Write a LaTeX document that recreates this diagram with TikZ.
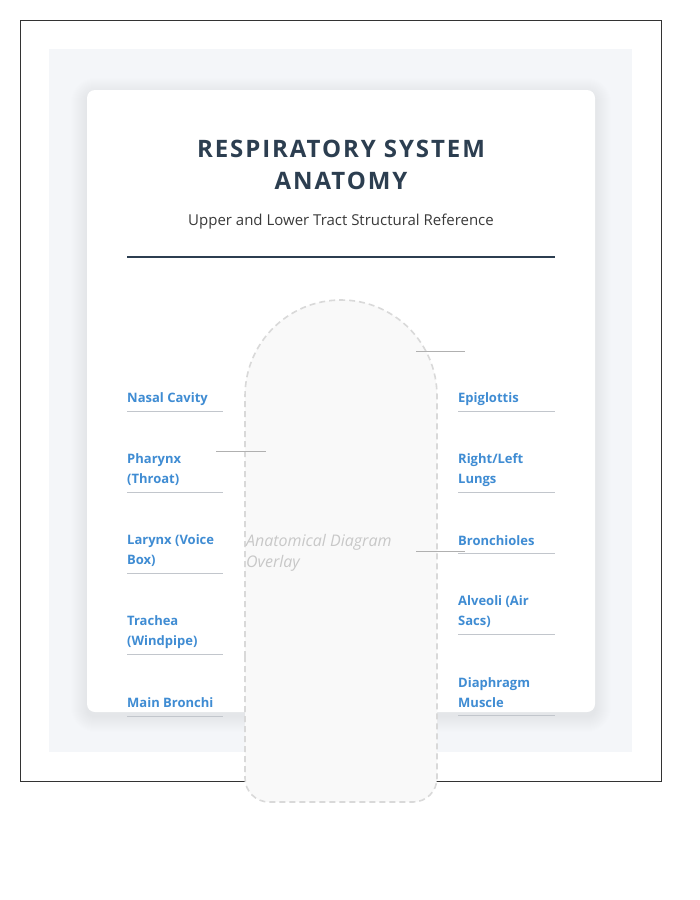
\documentclass[tikz,border=0pt]{standalone}
\usepackage{fontspec}
\setmainfont{Open Sans}
\definecolor{framec}{HTML}{333333}
\definecolor{bgc}{HTML}{F4F6F9}
\definecolor{titlec}{HTML}{2C3E50}
\definecolor{subc}{HTML}{3A3A3A}
\definecolor{labc}{HTML}{3F8CD3}
\definecolor{ulc}{HTML}{C2C6CC}
\definecolor{tickc}{HTML}{B0B0B0}
\definecolor{capfill}{HTML}{F9F9F9}
\definecolor{capline}{HTML}{D9D9D9}
\definecolor{overc}{HTML}{C8C8C8}
\definecolor{shadc}{HTML}{5A6A80}
\tikzset{
  lbl/.style={anchor=west, inner sep=0pt, align=left, text=labc,
    font=\fontsize{13}{20}\selectfont\bfseries},
  uline/.style={draw=ulc, line width=1pt},
  tick/.style={draw=tickc, line width=0.8pt},
  titlestyle/.style={inner sep=0pt, align=center, text=titlec,
    font=\fontsize{24}{32}\selectfont\bfseries\addfontfeatures{LetterSpace=8}},
}
\begin{document}
\begin{tikzpicture}[x=1pt,y=-1pt]
\useasboundingbox (0,0) rectangle (700,900);
\fill[white] (0,0) rectangle (700,900);
\draw[framec, line width=1pt] (20,20) rectangle (661,781);
\fill[bgc] (49,49) rectangle (632,752);
% soft shadow
\foreach \i in {1,...,16} {
  \fill[shadc, opacity=0.005, rounded corners={8pt+\i pt}]
    (87-\i,90-\i+4) rectangle (595+\i,712+\i+4);
}
\fill[white, rounded corners=8pt] (87,90) rectangle (595,712);
% title
\node[titlestyle] (title) at (341,164.5) {RESPIRATORY SYSTEM\\ANATOMY};
\node[inner sep=0pt, text=subc, font=\fontsize{15}{20}\selectfont] (sub) at (341,222)
  {Upper and Lower Tract Structural Reference};
\coordinate (r1) at (127,257);
\coordinate (r2) at (555,257);
\draw[titlec, line width=2pt] (r1) -- (r2);
% capsule
\draw[fill=capfill, draw=capline, line width=1.6pt, dash pattern=on 6pt off 4pt]
  [rounded corners=24pt] (245,560) -- (245,802) -- (437,802) -- (437,560)
  [rounded corners=96pt] -- (437,300) -- (245,300) -- cycle;
\node[anchor=north west, inner sep=0pt, align=left, text=overc,
  font=\fontsize{16}{21}\selectfont\itshape] (overlay) at (246,534)
  {Anatomical Diagram\\Overlay};
% ticks
\coordinate (ta1) at (416,351); \coordinate (ta2) at (465,351);
\coordinate (tb1) at (216,451); \coordinate (tb2) at (266,451);
\coordinate (tc1) at (416,551); \coordinate (tc2) at (465,551);
\draw[tick] (ta1) -- (ta2);
\draw[tick] (tb1) -- (tb2);
\draw[tick] (tc1) -- (tc2);
% left labels
\node[lbl] (nasal) at (127,399) {Nasal Cavity};
\draw[uline] (127,411) -- (223,411);
\node[lbl] (pharynx) at (127,470) {Pharynx\\(Throat)};
\draw[uline] (127,492) -- (223,492);
\node[lbl] (larynx) at (127,551) {Larynx (Voice\\Box)};
\draw[uline] (127,573) -- (223,573);
\node[lbl] (trachea) at (127,632) {Trachea\\(Windpipe)};
\draw[uline] (127,654) -- (223,654);
\node[lbl] (bronchi) at (127,703) {Main Bronchi};
\draw[uline] (127,716) -- (223,716);
% right labels
\node[lbl] (epi) at (458,399) {Epiglottis};
\draw[uline] (458,411) -- (555,411);
\node[lbl] (lungs) at (458,470) {Right/Left\\Lungs};
\draw[uline] (458,492) -- (555,492);
\node[lbl] (bronchioles) at (458,541) {Bronchioles};
\draw[uline] (458,553) -- (555,553);
\node[lbl] (alveoli) at (458,612) {Alveoli (Air\\Sacs)};
\draw[uline] (458,634) -- (555,634);
\node[lbl] (diaphragm) at (458,693) {Diaphragm\\Muscle};
\draw[uline] (458,715) -- (555,715);
\end{tikzpicture}
\end{document}
